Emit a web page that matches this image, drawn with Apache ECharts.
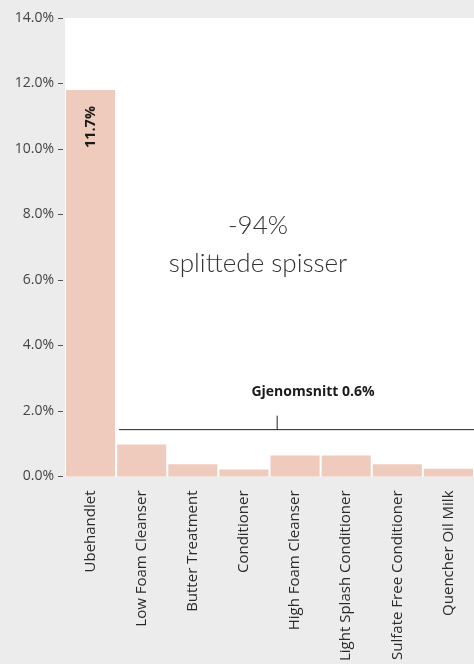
<!DOCTYPE html>
<html>
<head>
<meta charset="utf-8">
<script src="https://cdn.jsdelivr.net/npm/echarts@6/dist/echarts.min.js"></script>
<style>
  html, body { margin: 0; padding: 0; background: #edecec; }
  #chart { width: 474px; height: 664px; }
</style>
</head>
<body>
<div id="chart"></div>
<script>
// data
var categories = ['Ubehandlet', 'Low Foam Cleanser', 'Butter Treatment', 'Conditioner',
  'High Foam Cleanser', 'Light Splash Conditioner', 'Sulfate Free Conditioner', 'Quencher Oil Milk'];
var values = [11.8, 0.98, 0.37, 0.21, 0.64, 0.64, 0.37, 0.24];
var barLabels = ['11.7%', '', '', '', '', '', '', ''];
var yTicks = [0, 2, 4, 6, 8, 10, 12, 14];
var averageText = 'Gjenomsnitt 0.6%';
var bracketLevel = 1.43;

var font = '"Open Sans", "Noto Sans", sans-serif';
var lightFont = 'Lato, "Noto Sans", sans-serif';
var chartDom = document.getElementById('chart');
var myChart = echarts.init(chartDom);

var option = {
  backgroundColor: '#edecec',
  animation: false,
  grid: {
    left: 65,
    right: -6,
    top: 18,
    bottom: 187,
    show: true,
    backgroundColor: '#ffffff',
    borderWidth: 0
  },
  xAxis: {
    type: 'category',
    data: categories,
    axisLine: { show: false },
    axisTick: { show: false },
    axisLabel: {
      rotate: 90,
      interval: 0,
      margin: 14,
      color: '#2a2a2a',
      fontSize: 15,
      fontFamily: font
    }
  },
  yAxis: {
    type: 'value',
    min: yTicks[0],
    max: yTicks[yTicks.length - 1],
    interval: 2,
    offset: 2,
    splitLine: { show: false },
    axisLine: { show: false },
    axisTick: { show: true, length: 5, lineStyle: { color: '#555' } },
    axisLabel: {
      margin: 9,
      color: '#444',
      fontSize: 14,
      fontFamily: font,
      formatter: function (v) { return v.toFixed(1) + '%'; }
    }
  },
  series: [
    {
      type: 'bar',
      data: values,
      barCategoryGap: '4%',
      itemStyle: { color: '#efcbbd' },
      label: {
        show: true,
        position: 'insideTop',
        rotate: 90,
        align: 'right',
        verticalAlign: 'middle',
        distance: 16,
        fontFamily: font,
        fontWeight: 'bold',
        fontSize: 14.5,
        color: '#1a1a1a',
        formatter: function (p) { return barLabels[p.dataIndex]; }
      }
    }
  ]
};

myChart.setOption(option);

// bracket for the average, placed from the axis scales
var band = myChart.convertToPixel({ xAxisIndex: 0 }, 1) - myChart.convertToPixel({ xAxisIndex: 0 }, 0);
var x0 = myChart.convertToPixel({ xAxisIndex: 0 }, 1) - band / 2 + 3;
var x1 = myChart.convertToPixel({ xAxisIndex: 0 }, 7) + band / 2;
var xm = myChart.convertToPixel({ xAxisIndex: 0 }, 3) + band * 0.65;
var yb = myChart.convertToPixel({ yAxisIndex: 0 }, bracketLevel);

myChart.setOption({
  graphic: [
    {
      type: 'line',
      shape: { x1: x0, y1: yb, x2: x1, y2: yb },
      style: { stroke: '#222', lineWidth: 1 }
    },
    {
      type: 'line',
      shape: { x1: xm, y1: yb, x2: xm, y2: yb - 14 },
      style: { stroke: '#222', lineWidth: 1 }
    },
    {
      type: 'text',
      x: 313,
      y: yb - 38,
      style: {
        text: averageText,
        align: 'center',
        verticalAlign: 'middle',
        font: 'bold 14px ' + font,
        fill: '#1a1a1a'
      }
    },
    {
      type: 'text',
      x: 258,
      y: 245,
      style: {
        text: '-94%\nsplittede spisser',
        align: 'center',
        verticalAlign: 'middle',
        font: '300 26px ' + lightFont,
        lineHeight: 38,
        fill: '#333'
      }
    }
  ]
});
</script>
</body>
</html>
